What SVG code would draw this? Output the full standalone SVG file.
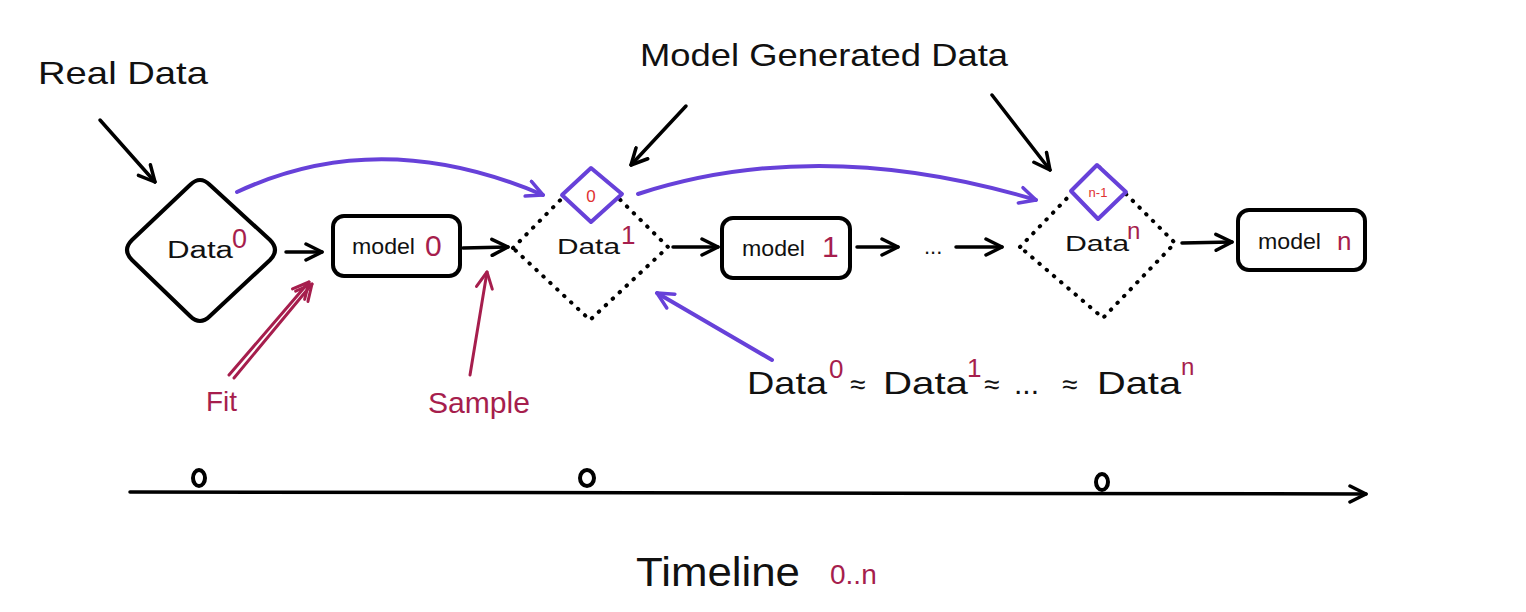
<svg xmlns="http://www.w3.org/2000/svg" width="1526" height="612" viewBox="0 0 1526 612">
<defs>
<marker id="ahK" markerUnits="userSpaceOnUse" markerWidth="20" markerHeight="20" viewBox="0 0 20 20" refX="18" refY="10" orient="auto"><path d="M2,2 L18,10 L2,18" fill="none" stroke="#000" stroke-width="3.5" stroke-linecap="round" stroke-linejoin="round"/></marker>
<marker id="ahP" markerUnits="userSpaceOnUse" markerWidth="20" markerHeight="20" viewBox="0 0 20 20" refX="18" refY="10" orient="auto"><path d="M2,2 L18,10 L2,18" fill="none" stroke="#6741d9" stroke-width="3.5" stroke-linecap="round" stroke-linejoin="round"/></marker>
<marker id="ahR" markerUnits="userSpaceOnUse" markerWidth="20" markerHeight="20" viewBox="0 0 20 20" refX="18" refY="10" orient="auto"><path d="M2,2 L18,10 L2,18" fill="none" stroke="#a61e4d" stroke-width="3" stroke-linecap="round" stroke-linejoin="round"/></marker>
<style>
.t{font-family:"Liberation Sans",Arial,sans-serif;fill:#111}
.r{font-family:"Liberation Sans",Arial,sans-serif;fill:#a61e4d}
.rr{font-family:"Liberation Sans",Arial,sans-serif;fill:#e03131}
.box{fill:#fff;stroke:#000;stroke-width:4}
.dot{fill:none;stroke:#000;stroke-width:4;stroke-dasharray:0.5 9;stroke-linecap:round}
.pd{fill:#fff;stroke:#6741d9;stroke-width:4;stroke-linejoin:round}
.ck{fill:none;stroke:#000;stroke-width:3.5;stroke-linecap:round;marker-end:url(#ahK)}
.cp{fill:none;stroke:#6741d9;stroke-width:4;stroke-linecap:round;marker-end:url(#ahP)}
.cr{fill:none;stroke:#a61e4d;stroke-width:3;stroke-linecap:round;marker-end:url(#ahR)}
</style>
</defs>
<rect width="1526" height="612" fill="#fff"/>

<g id="labels">
<text class="t" x="38" y="84" font-size="32" textLength="170" lengthAdjust="spacingAndGlyphs">Real Data</text>
<text class="t" x="640" y="66" font-size="32" textLength="368" lengthAdjust="spacingAndGlyphs">Model Generated Data</text>
<text class="r" x="206" y="411" font-size="28">Fit</text>
<text class="r" x="428" y="413" font-size="30" textLength="102" lengthAdjust="spacingAndGlyphs">Sample</text>
</g>

<g id="equation">
<text class="t" x="747" y="394" font-size="32" textLength="80" lengthAdjust="spacingAndGlyphs">Data</text>
<text class="r" x="829" y="378" font-size="26">0</text>
<text class="t" x="850" y="394" font-size="28">≈</text>
<text class="t" x="883" y="394" font-size="32" textLength="85" lengthAdjust="spacingAndGlyphs">Data</text>
<text class="r" x="967" y="377" font-size="26">1</text>
<text class="t" x="984" y="394" font-size="28">≈</text>
<text class="t" x="1014" y="394" font-size="30">...</text>
<text class="t" x="1062" y="394" font-size="28">≈</text>
<text class="t" x="1097" y="394" font-size="32" textLength="84" lengthAdjust="spacingAndGlyphs">Data</text>
<text class="r" x="1181" y="375" font-size="24">n</text>
</g>

<g id="node-data0">
<path class="box" d="M132,240 L190,185 Q200,175 210,185 L270,240 Q280,250 270,260 L210,316 Q200,326 190,316 L132,260 Q122,250 132,240 Z"/>
<text class="t" x="167" y="258" font-size="23" textLength="66" lengthAdjust="spacingAndGlyphs">Data</text>
<text class="r" x="232" y="248" font-size="27">0</text>
</g>

<g id="node-model0">
<rect class="box" x="333" y="216" width="127" height="60" rx="11"/>
<text class="t" x="352" y="254" font-size="22" textLength="63" lengthAdjust="spacingAndGlyphs">model</text>
<text class="r" x="425" y="256" font-size="30">0</text>
</g>

<g id="node-data1">
<path class="dot" d="M513,248 L590,170 L668,247 L590,320 Z"/>
<path class="pd" d="M562,195 L591,168 L622,194 L591,222 Z"/>
<text class="rr" x="591" y="202" font-size="17" text-anchor="middle">0</text>
<text class="t" x="557" y="254" font-size="22" textLength="63" lengthAdjust="spacingAndGlyphs">Data</text>
<text class="r" x="621" y="244" font-size="26">1</text>
</g>

<g id="node-model1">
<rect class="box" x="722" y="218" width="128" height="60" rx="11"/>
<text class="t" x="742" y="256" font-size="22" textLength="63" lengthAdjust="spacingAndGlyphs">model</text>
<text class="r" x="822" y="257" font-size="30">1</text>
</g>

<g id="node-ellipsis">
<text class="t" x="924" y="254" font-size="22">...</text>
</g>

<g id="node-datan">
<path class="dot" d="M1020,247 L1098,166 L1175,243 L1103,318 Z"/>
<path class="pd" d="M1071,191 L1097,165 L1126,192 L1098,219 Z"/>
<text class="rr" x="1098" y="197" font-size="13" text-anchor="middle">n-1</text>
<text class="t" x="1065" y="251" font-size="22" textLength="64" lengthAdjust="spacingAndGlyphs">Data</text>
<text class="r" x="1127" y="239" font-size="24">n</text>
</g>

<g id="node-modeln">
<rect class="box" x="1238" y="210" width="127" height="60" rx="11"/>
<text class="t" x="1258" y="249" font-size="22" textLength="63" lengthAdjust="spacingAndGlyphs">model</text>
<text class="r" x="1337" y="250" font-size="26">n</text>
</g>

<g id="timeline">
<text class="t" x="636" y="586" font-size="40" textLength="164" lengthAdjust="spacingAndGlyphs">Timeline</text>
<text class="r" x="830" y="584" font-size="28">0..n</text>
<ellipse cx="199" cy="478" rx="6" ry="8" fill="none" stroke="#000" stroke-width="4"/>
<ellipse cx="587" cy="478" rx="7" ry="8" fill="none" stroke="#000" stroke-width="4"/>
<ellipse cx="1102" cy="482" rx="6" ry="8" fill="none" stroke="#000" stroke-width="4"/>
</g>

<g id="connectors">
<path class="ck" d="M100,120 L155,182"/>
<path class="ck" d="M686,106 L631,165"/>
<path class="ck" d="M992,95 L1050,170"/>
<path class="ck" d="M286,252 L322,252"/>
<path class="ck" d="M463,248 L508,247"/>
<path class="ck" d="M673,247 L718,247"/>
<path class="ck" d="M857,247 L898,247"/>
<path class="ck" d="M956,247 L1002,247"/>
<path class="ck" d="M1182,243 L1232,242"/>
<path class="ck" d="M130,492 L1366,494"/>
<path class="cp" d="M237,192 Q380,125 543,195"/>
<path class="cp" d="M638,194 Q820,135 1036,200"/>
<path class="cp" d="M772,360 L657,293"/>
<path class="cr" d="M229,375 L309,282"/>
<path class="cr" d="M234,378 L312,284"/>
<path class="cr" d="M470,375 L487,272"/>
</g>
</svg>
